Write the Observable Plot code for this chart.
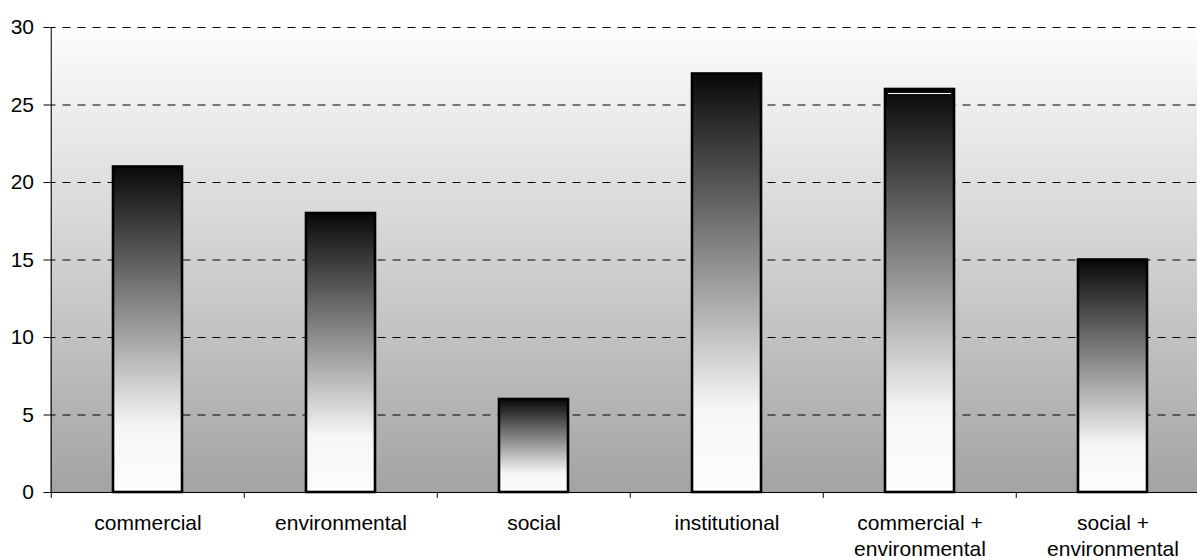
<!DOCTYPE html>
<html>
<head>
<meta charset="utf-8">
<script src="https://cdn.jsdelivr.net/npm/d3@7"></script>
<script src="https://cdn.jsdelivr.net/npm/@observablehq/plot@0.6"></script>
<style>
  html, body { margin: 0; padding: 0; background: #fff; }
  #chart { width: 1197px; height: 557px; overflow: hidden; }
  #chart svg { max-width: none; overflow: hidden; }
</style>
</head>
<body>
<div id="chart"></div>
<script>
const categories = ["commercial", "environmental", "social", "institutional", "commercial + environmental", "social + environmental"];
const tickLabels = ["commercial", "environmental", "social", "institutional", "commercial +\nenvironmental", "social +\nenvironmental"];
const values = [21, 18, 6, 27, 26, 15];
const yTicks = [0, 5, 10, 15, 20, 25, 30];

const data = categories.map((c, i) => ({category: c, value: values[i]}));
const labelOf = new Map(categories.map((c, i) => [c, tickLabels[i]]));

const W = 1197, H = 557;
const left = 49.5, right = 1210.5;
const step = (right - left) / categories.length;

const plot = Plot.plot({
  width: W,
  height: H,
  marginTop: 27,
  marginBottom: 65,
  marginLeft: 49.5,
  marginRight: 0,
  style: {fontFamily: "'Liberation Sans', Arial, sans-serif", fontSize: "21px", color: "#000", background: "#fff"},
  x: {domain: categories, range: [left, right], paddingInner: 0.64, paddingOuter: 0.32, label: null},
  y: {domain: [0, 30], label: null},
  marks: [
    Plot.frame({fill: "url(#bgGrad)", stroke: "none"}),
    Plot.ruleY(yTicks.filter(d => d > 0), {stroke: "#000", strokeWidth: 1, strokeDasharray: "8,7", strokeDashoffset: 2}),
    Plot.barY(data, {x: "category", y: "value", fill: "url(#barGrad)", stroke: "#000", strokeWidth: 2.6}),
    Plot.tickY([data[4]], {x: "category", y: "value", dy: 4, inset: 3, stroke: "#fff", strokeWidth: 1.2}),
    Plot.ruleY([0], {stroke: "#000", strokeWidth: 1}),
    Plot.ruleX([categories[0]], {x: d => d, dx: -step / 2, y1: 0, y2: 30, stroke: "#000", strokeWidth: 1}),
    Plot.ruleX(categories, {x: d => d, dx: -step / 2, y1: 0, y2: -0.38, stroke: "#000", strokeWidth: 1}),
    Plot.axisY({ticks: yTicks, tickSize: 6, tickPadding: 10, fontSize: 21, label: null}),
    Plot.axisX({tickSize: 0, tickPadding: 20, fontSize: 21, lineHeight: 1.2, tickFormat: d => labelOf.get(d), label: null})
  ]
});

const svg = d3.select(plot);
const defs = svg.insert("defs", ":first-child");
const bg = defs.append("linearGradient").attr("id", "bgGrad").attr("x1", 0).attr("y1", 0).attr("x2", 0).attr("y2", 1);
bg.append("stop").attr("offset", "0%").attr("stop-color", "#fdfdfd");
bg.append("stop").attr("offset", "100%").attr("stop-color", "#a3a3a3");
const bar = defs.append("linearGradient").attr("id", "barGrad").attr("x1", 0).attr("y1", 0).attr("x2", 0).attr("y2", 1);
bar.append("stop").attr("offset", "0%").attr("stop-color", "#080808");
bar.append("stop").attr("offset", "80%").attr("stop-color", "#f6f6f6");
bar.append("stop").attr("offset", "100%").attr("stop-color", "#fdfdfd");

document.getElementById("chart").appendChild(plot);
</script>
</body>
</html>
